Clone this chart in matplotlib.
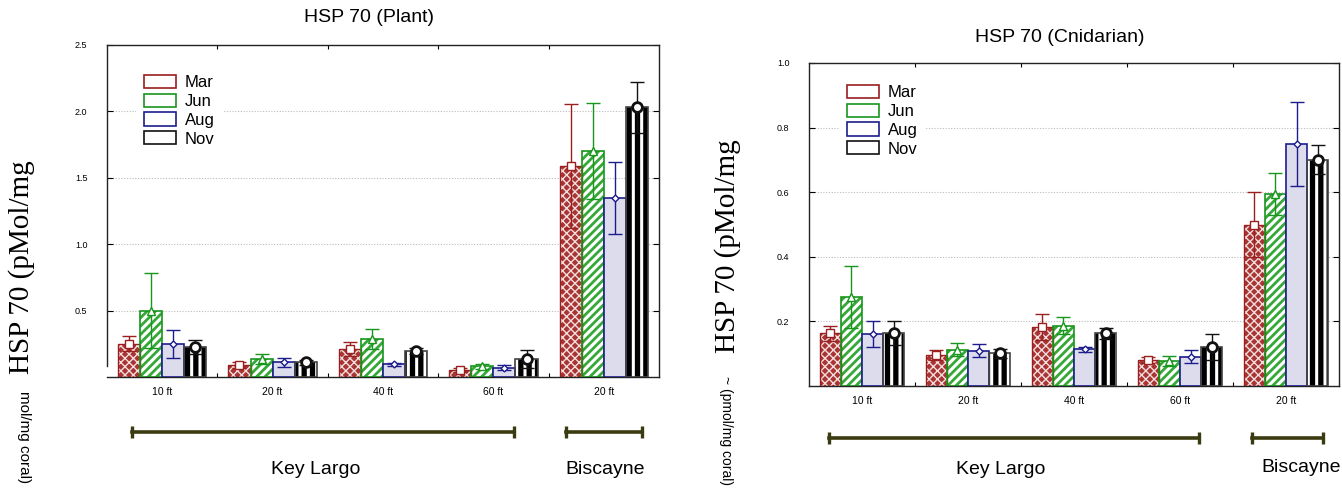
import numpy as np
import matplotlib
matplotlib.use("Agg")
import matplotlib.pyplot as plt
from matplotlib.patches import Rectangle
from matplotlib.lines import Line2D
import matplotlib.transforms as mtransforms

# ---------------- data ----------------
categories = ['10 ft', '20 ft', '40 ft', '60 ft', '20 ft']
seasons = ['Mar', 'Jun', 'Aug', 'Nov']

plant_mar = [0.25, 0.09, 0.21, 0.05, 1.59]
plant_jun = [0.50, 0.135, 0.285, 0.08, 1.70]
plant_aug = [0.25, 0.11, 0.095, 0.07, 1.35]
plant_nov = [0.225, 0.11, 0.195, 0.135, 2.03]
plant_mar_err = [0.055, 0.025, 0.055, 0.015, 0.465]
plant_jun_err = [0.28, 0.04, 0.075, 0.02, 0.36]
plant_aug_err = [0.105, 0.033, 0.012, 0.018, 0.27]
plant_nov_err = [0.055, 0.02, 0.025, 0.065, 0.19]

cnid_mar = [0.163, 0.096, 0.182, 0.081, 0.50]
cnid_jun = [0.275, 0.112, 0.187, 0.078, 0.595]
cnid_aug = [0.16, 0.109, 0.114, 0.091, 0.748]
cnid_nov = [0.163, 0.101, 0.163, 0.12, 0.70]
cnid_mar_err = [0.024, 0.016, 0.04, 0.009, 0.10]
cnid_jun_err = [0.095, 0.02, 0.027, 0.015, 0.065]
cnid_aug_err = [0.04, 0.02, 0.008, 0.02, 0.13]
cnid_nov_err = [0.037, 0.014, 0.018, 0.041, 0.045]

plant_yticks = [0.5, 1.0, 1.5, 2.0, 2.5]
cnid_yticks = [0.2, 0.4, 0.6, 0.8, 1.0]

sites = ['Key Largo', 'Biscayne']

# ---------------- style ----------------
plt.rcParams['font.family'] = ['Liberation Sans', 'DejaVu Sans']
plt.rcParams['hatch.linewidth'] = 1.3

edge_cols = {'Mar': '#9a1f1f', 'Jun': '#18951c', 'Aug': '#1c1c8c', 'Nov': '#111111'}
markers = {'Mar': ('s', 5.5, 1.0), 'Jun': ('^', 5.5, 1.0), 'Aug': ('D', 3.5, 1.0), 'Nov': ('o', 7, 2.0)}

fig = plt.figure(figsize=(13.42, 4.93), dpi=100)

W, H = 1342.0, 493.0


def fx(px):
    return px / W


def fy(py):
    return 1 - py / H


def set_hlw(bars, lw):
    for b in bars:
        if hasattr(b, 'set_hatch_linewidth'):
            b.set_hatch_linewidth(lw)


def draw_panel(ax, means, errs, yticks, ymax):
    n = len(categories)
    x = np.arange(n)
    bw = 0.2
    offsets = [-0.3, -0.1, 0.1, 0.3]
    ax.set_xlim(-0.5, n - 0.5)
    ax.set_ylim(0, ymax)
    ax.set_axisbelow(True)
    for yt in yticks[:-1]:
        ax.axhline(yt, color='#bbbbbb', lw=0.8, ls=(0, (1, 1.5)), zorder=0)
    for s, off in zip(seasons, offsets):
        m = np.array(means[s])
        e = np.array(errs[s])
        xs = x + off
        if s == 'Mar':
            bars = ax.bar(xs, m, bw, color='#a83434', edgecolor='#f3dede', hatch='xxxx', lw=0, zorder=2)
            set_hlw(bars, 1.0)
            ax.bar(xs, m, bw, fill=False, edgecolor=edge_cols[s], lw=1.0, zorder=3)
        elif s == 'Jun':
            bars = ax.bar(xs, m, bw, color='white', edgecolor='#35a838', hatch='////', lw=0, zorder=2)
            set_hlw(bars, 2.0)
            ax.bar(xs, m, bw, fill=False, edgecolor=edge_cols[s], lw=1.2, zorder=3)
        elif s == 'Aug':
            ax.bar(xs, m, bw, color='#dddced', edgecolor=edge_cols[s], lw=1.2, zorder=3)
        else:
            bars = ax.bar(xs, m, bw, color='white', edgecolor='black', hatch='||', lw=0, zorder=2)
            set_hlw(bars, 3.8)
            ax.bar(xs, m, bw, fill=False, edgecolor='#444444', lw=1.2, zorder=3)
        ax.errorbar(xs, m, yerr=e, fmt='none', ecolor=edge_cols[s], elinewidth=1.0,
                    capsize=5, capthick=1.0, zorder=4)
        mk, ms, mew = markers[s]
        ax.plot(xs, m, ls='none', marker=mk, ms=ms, mfc='white', mec=edge_cols[s], mew=mew, zorder=5)

    ax.set_yticks(yticks)
    ax.set_yticklabels(['%.1f' % v for v in yticks], fontsize=6.5)
    ax.set_xticks(x)
    ax.set_xticklabels(categories, fontsize=7.5)
    offset = mtransforms.ScaledTranslation(-8 / 100, 0, fig.dpi_scale_trans)
    for lbl in ax.get_xticklabels():
        lbl.set_transform(lbl.get_transform() + offset)
    ax.tick_params(axis='x', length=0, pad=7)
    ax.tick_params(axis='y', direction='in', length=4, pad=14, right=True, left=True, width=0.8)
    # boundary ticks on top and bottom
    ax.set_xticks(np.arange(n - 1) + 0.5, minor=True)
    ax.tick_params(axis='x', which='minor', direction='in', length=3, top=True, bottom=True, width=0.8)
    for sp in ax.spines.values():
        sp.set_linewidth(1.0)
        sp.set_color('#222222')

    handles = [Rectangle((0, 0), 1, 1, facecolor='white', edgecolor=edge_cols[s], lw=1.2) for s in seasons]
    return handles


leg_kw = dict(fontsize=12, frameon=True, facecolor='white', edgecolor='none', framealpha=1,
              fancybox=False, handlelength=1.9, handleheight=0.85, labelspacing=0.2,
              handletextpad=0.55, borderpad=0.5, borderaxespad=0)

# ---------------- left panel ----------------
axL = fig.add_axes([fx(107), fy(377), fx(659 - 107), (377 - 45) / H])
hL = draw_panel(axL,
                {'Mar': plant_mar, 'Jun': plant_jun, 'Aug': plant_aug, 'Nov': plant_nov},
                {'Mar': plant_mar_err, 'Jun': plant_jun_err, 'Aug': plant_aug_err, 'Nov': plant_nov_err},
                plant_yticks, 2.5)
axL.spines['left'].set_bounds(0.085, 2.5)
legL = axL.legend(hL, seasons, loc='upper left', bbox_to_anchor=(0.052, 0.935), **leg_kw)
legL.set_zorder(6)

# ---------------- right panel ----------------
axR = fig.add_axes([fx(809), fy(386), fx(1339 - 809), (386 - 63) / H])
hR = draw_panel(axR,
                {'Mar': cnid_mar, 'Jun': cnid_jun, 'Aug': cnid_aug, 'Nov': cnid_nov},
                {'Mar': cnid_mar_err, 'Jun': cnid_jun_err, 'Aug': cnid_aug_err, 'Nov': cnid_nov_err},
                cnid_yticks, 1.0)
legR = axR.legend(hR, seasons, loc='upper left', bbox_to_anchor=(0.056, 0.958), **leg_kw)
legR.set_zorder(6)

# ---------------- titles ----------------
fig.text(fx(369), fy(17), 'HSP 70 (Plant)', ha='center', va='center', fontsize=14)
fig.text(fx(1060), fy(37), 'HSP 70 (Cnidarian)', ha='center', va='center', fontsize=14)

# ---------------- y labels ----------------
fig.text(fx(22), fy(267), 'HSP 70 (pMol/mg', rotation=90, ha='center', va='center',
         fontsize=21, family=['Liberation Serif', 'DejaVu Serif'])
fig.text(fx(24), fy(437), 'mol/mg coral)', rotation=-90, ha='center', va='center', fontsize=11)
fig.text(fx(728), fy(246), 'HSP 70 (pMol/mg', rotation=90, ha='center', va='center',
         fontsize=21, family=['Liberation Serif', 'DejaVu Serif'])
fig.text(fx(726), fy(430), '~ (pmol/mg coral)', rotation=-90, ha='center', va='center', fontsize=10)

# ---------------- site brackets ----------------
bracket_col = '#3b3b12'


def bracket(ax, x0, x1, ypx, label, lx, lypx):
    tr = mtransforms.blended_transform_factory(ax.transData, fig.transFigure)
    ln = Line2D([x0, x1], [fy(ypx), fy(ypx)], transform=tr, color=bracket_col, lw=2.6,
                marker='|', ms=8, mew=2.4, clip_on=False)
    fig.add_artist(ln)
    fig.text(lx, fy(lypx), label, transform=tr, fontsize=14, ha='center', va='center')


bracket(axL, -0.27, 3.19, 432, sites[0], 1.39, 470)
bracket(axL, 3.66, 4.35, 432, sites[1], 4.01, 470)
bracket(axR, -0.31, 3.18, 438, sites[0], 1.31, 470)
bracket(axR, 3.68, 4.35, 438, sites[1], 4.14, 468)

fig.savefig('out.png', dpi=100)
